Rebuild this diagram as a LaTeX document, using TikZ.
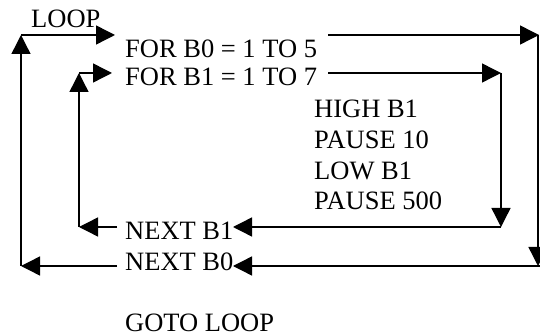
\documentclass[tikz,border=0pt]{standalone}
\usepackage{fontspec}
\setmainfont{Liberation Serif}
\usetikzlibrary{arrows.meta}
\begin{document}
\begin{tikzpicture}[x=1pt,y=-1pt,
  lbl/.style={anchor=base west,inner sep=0pt,font=\fontsize{26.5}{30}\selectfont},
  flow/.style={line width=1.4pt,-{Triangle[length=19pt,width=19pt]}}]
\useasboundingbox (0,0) rectangle (540,336);
% texts
\node[lbl] (loop) at (31,28) {LOOP};
\node[lbl] (for0) at (125,58) {FOR B0 = 1 TO 5};
\node[lbl] (for1) at (125,86) {FOR B1 = 1 TO 7};
\node[lbl] (high) at (314,118) {HIGH B1};
\node[lbl] (p10) at (314,149) {PAUSE 10};
\node[lbl] (low) at (314,180) {LOW B1};
\node[lbl] (p500) at (314,210) {PAUSE 500};
\node[lbl] (next1) at (125,240) {NEXT B1};
\node[lbl] (next0) at (125,271) {NEXT B0};
\node[lbl] (goto) at (125,331) {GOTO LOOP};
% corner and end coordinates
\coordinate (oBL) at (21,266);
\coordinate (oTL) at (21,35);
\coordinate (oIn) at (115,35);
\coordinate (oOut) at (328,35);
\coordinate (oTR) at (539,35);
\coordinate (oRv) at (538,35);
\coordinate (oBR) at (538,266);
\coordinate (oBRh) at (541,266);
\coordinate (oBack) at (233,266);
\coordinate (oFrom) at (117,266);
\coordinate (iBL) at (79,227);
\coordinate (iTL) at (79,73);
\coordinate (iIn) at (112,73);
\coordinate (iOut) at (328,73);
\coordinate (iTR) at (501,73);
\coordinate (iBR) at (501,227);
\coordinate (iBack) at (233,227);
\coordinate (iFrom) at (117,227);
% outer loop
\draw[flow] (oBL) -- (oTL);
\draw[flow] (oTL) -- (oIn);
\draw[flow] (oOut) -- (oTR);
\draw[flow] (oRv) -- (oBR);
\draw[flow] (oBRh) -- (oBack);
\draw[flow] (oFrom) -- (oBL);
% inner loop
\draw[flow] (iBL) -- (iTL);
\draw[flow] (iTL) -- (iIn);
\draw[flow] (iOut) -- (iTR);
\draw[flow] (iTR) -- (iBR);
\draw[flow] (iBR) -- (iBack);
\draw[flow] (iFrom) -- (iBL);
\end{tikzpicture}
\end{document}
